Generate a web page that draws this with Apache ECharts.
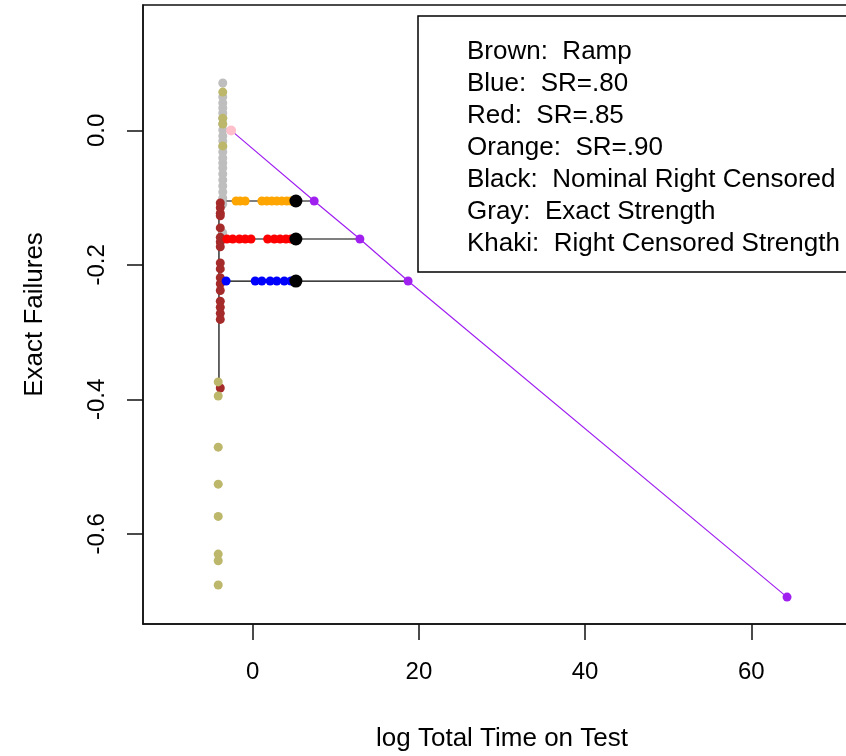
<!DOCTYPE html>
<html>
<head>
<meta charset="utf-8">
<script src="https://cdn.jsdelivr.net/npm/echarts@6/dist/echarts.min.js"></script>
<style>html,body{margin:0;padding:0;background:#fff;}#c{width:846px;height:756px;}</style>
</head>
<body>
<div id="c"></div>
<script>
// ---- data ----
var xTicks = [0, 20, 40, 60];
var yTicks = [0, -0.2, -0.4, -0.6];
var rowY = { orange: -0.105, red: -0.1615, blue: -0.224 };
var stemX = -4.06;
var stemBottom = -0.38;
var grayX = -3.6;
var grayY = [0.0705, 0.0497, 0.0407, 0.0333, 0.0259, 0.0184, 0.0095, 0.0006, -0.0083, -0.0158, -0.0247, -0.0321, -0.0410, -0.0485, -0.0559, -0.0648, -0.0738, -0.0827, -0.0916, -0.1005, -0.1094, -0.1525];
var khakiUpperX = -3.6;
var khakiUpperY = [0.057, 0.018, 0.0095, -0.023];
var khakiLowerX = -4.15;
var khakiLowerY = [-0.374, -0.395, -0.471, -0.526, -0.574, -0.630, -0.640, -0.676];
var brownX = -3.9;
var brownY = [-0.108, -0.115, -0.123, -0.127, -0.145, -0.159, -0.166, -0.173, -0.197, -0.206, -0.219, -0.228, -0.238, -0.254, -0.263, -0.272, -0.281, -0.383];
var orangeX = [-2.0, -1.5, -0.9, 1.1, 1.7, 2.3, 2.9, 3.5, 4.1, 4.6];
var redX = [-3.1, -2.4, -1.6, -0.9, -0.2, 1.8, 2.6, 3.3, 4.0, 4.6];
var blueX = [-3.2, 0.3, 1.1, 2.1, 2.9, 3.8, 4.6];
var blackX = 5.2;
var purpleX = [7.4, 12.9, 18.7, 64.3];
var purpleY = [-0.105, -0.1615, -0.224, -0.694];
var pinkPt = [-2.6, 0.0];
var legendLines = ['Brown:  Ramp', 'Blue:  SR=.80', 'Red:  SR=.85', 'Orange:  SR=.90', 'Black:  Nominal Right Censored', 'Gray:  Exact Strength', 'Khaki:  Right Censored Strength'];

// ---- build ----
var FONT = 'Liberation Sans, Arial, sans-serif';
function colPts(x, ys) { return ys.map(function (y) { return [x, y]; }); }
function rowPts(xs, y) { return xs.map(function (x) { return [x, y]; }); }
function sc(name, data, color, size) {
  return { type: 'scatter', name: name, data: data, symbol: 'circle', symbolSize: size || 9,
    itemStyle: { color: color, opacity: 1 }, silent: true, z: 3 };
}
function ln(data, color, w) {
  return { type: 'line', data: data, symbol: 'none', lineStyle: { color: color, width: w || 1.2 }, silent: true, z: 2, animation: false };
}
var rows = [rowY.orange, rowY.red, rowY.blue];
var series = [];
series.push(ln([[stemX, rowY.orange], [stemX, stemBottom]], '#000'));
rows.forEach(function (y, i) { series.push(ln([[stemX, y], [purpleX[i], y]], '#000')); });
series.push(ln([pinkPt].concat(purpleX.map(function (x, i) { return [x, purpleY[i]]; })), '#A020F0', 1.2));
series.push(sc('gray', colPts(grayX, grayY), '#BEBEBE'));
series.push(sc('khakiU', colPts(khakiUpperX, khakiUpperY), '#BDB76B'));
series.push(sc('brown', colPts(brownX, brownY), '#A52A2A'));
series.push(sc('khakiL', colPts(khakiLowerX, khakiLowerY), '#BDB76B'));
series.push(sc('orange', rowPts(orangeX, rowY.orange), '#FFA500'));
series.push(sc('red', rowPts(redX, rowY.red), '#FF0000'));
series.push(sc('blue', rowPts(blueX, rowY.blue), '#0000FF'));
series.push(sc('black', rows.map(function (y) { return [blackX, y]; }), '#000000', 13));
series.push(sc('purple', purpleX.map(function (x, i) { return [x, purpleY[i]]; }), '#A020F0', 9));
series.push(sc('pink', [pinkPt], '#FFC0CB', 10));

var graphics = [{ type: 'rect', shape: { x: 418, y: 16, width: 460, height: 256 },
  style: { fill: '#fff', stroke: '#000', lineWidth: 1.5 }, z: 10 }];
legendLines.forEach(function (t, i) {
  graphics.push({ type: 'text', x: 467, y: 52 + i * 32, z: 11,
    style: { text: t, font: '26px ' + FONT, fill: '#000', textVerticalAlign: 'middle', textAlign: 'left' } });
});

var chart = echarts.init(document.getElementById('c'));
chart.setOption({
  animation: false,
  backgroundColor: '#fff',
  grid: { left: 143, top: 5, width: 718, height: 619, show: true, borderColor: '#111', borderWidth: 1.5,
    backgroundColor: 'transparent', containLabel: false, outerBoundsMode: 'none' },
  xAxis: {
    type: 'value', min: -13.2, max: 73.2,
    name: 'log Total Time on Test', nameLocation: 'middle', nameGap: 102,
    nameTextStyle: { fontFamily: FONT, fontSize: 26, color: '#000' },
    axisLine: { show: true, onZero: false, lineStyle: { color: '#111', width: 1.5 } },
    axisTick: { show: true, inside: false, length: 16, lineStyle: { color: '#111', width: 1.5 }, customValues: xTicks },
    axisLabel: { show: true, margin: 36, fontFamily: FONT, fontSize: 24, color: '#000', customValues: xTicks,
      formatter: function (v) { return String(v); } },
    splitLine: { show: false }
  },
  yAxis: {
    type: 'value', min: -0.734, max: 0.1865,
    name: 'Exact Failures', nameLocation: 'middle', nameGap: 95,
    nameTextStyle: { fontFamily: FONT, fontSize: 26, color: '#000' },
    axisLine: { show: true, onZero: false, lineStyle: { color: '#111', width: 1.5 } },
    axisTick: { show: true, inside: false, length: 16, lineStyle: { color: '#111', width: 1.5 }, customValues: yTicks },
    axisLabel: { show: true, rotate: 90, margin: 34, fontFamily: FONT, fontSize: 24, color: '#000', customValues: yTicks,
      formatter: function (v) { return v.toFixed(1); } },
    splitLine: { show: false }
  },
  series: series,
  graphic: graphics
});
</script>
</body>
</html>
